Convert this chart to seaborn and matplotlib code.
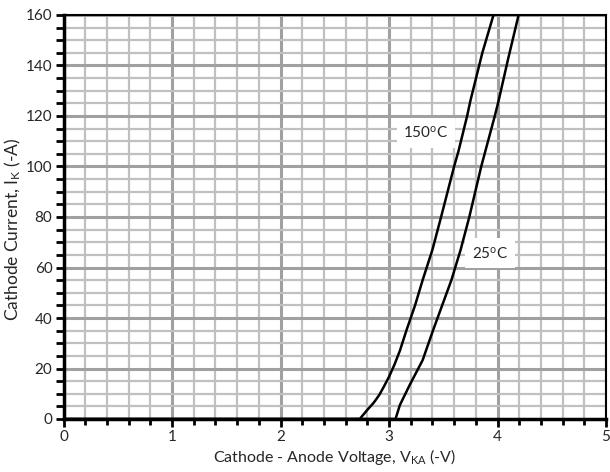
import numpy as np
import pandas as pd
import seaborn as sns
import matplotlib.pyplot as plt
from matplotlib.ticker import MultipleLocator

# curve data
v_150 = [0.0, 2.73, 2.80, 2.86, 2.91, 2.95, 3.00, 3.05, 3.10, 3.16, 3.24, 3.31, 3.40, 3.48, 3.60, 3.64, 3.72, 3.75, 3.86, 3.97]
i_150 = [0.0, 0.0, 3.6, 6.5, 9.5, 12.6, 16.7, 21.5, 27.0, 35.0, 45.0, 55.0, 67.0, 80.0, 100.0, 106.0, 120.0, 126.0, 145.0, 161.0]
v_25 = [0.0, 3.06, 3.10, 3.19, 3.31, 3.405, 3.49, 3.575, 3.66, 3.74, 3.85, 3.975, 4.01, 4.10, 4.20]
i_25 = [0.0, 0.0, 5.5, 13.4, 23.3, 35.0, 45.0, 55.0, 67.0, 80.0, 100.0, 120.0, 126.0, 143.0, 161.0]
temps = ['150$^{o}$C', '25$^{o}$C']
label_pos = [(3.34, 113.4), (3.93, 65.6)]

df = pd.concat([
    pd.DataFrame({'V': v_150, 'I': i_150, 'T': temps[0]}),
    pd.DataFrame({'V': v_25, 'I': i_25, 'T': temps[1]}),
], ignore_index=True)

sns.set_style('white')
plt.rcParams['font.family'] = ['Lato', 'DejaVu Sans']
plt.rcParams['mathtext.fontset'] = 'custom'
plt.rcParams['mathtext.rm'] = 'Lato'
plt.rcParams['mathtext.it'] = 'Lato'

fig, ax = plt.subplots(figsize=(6.1, 4.72), dpi=100)
fig.subplots_adjust(left=63.5/610, right=606/610, top=1-15/472, bottom=1-419/472)

sns.lineplot(data=df, x='V', y='I', hue='T', palette=['black', 'black'],
             sort=False, estimator=None, linewidth=1.8, legend=False, ax=ax, zorder=3)

ax.set_xlim(0, 5)
ax.set_ylim(0, 160)
ax.xaxis.set_major_locator(MultipleLocator(1))
ax.xaxis.set_minor_locator(MultipleLocator(0.2))
ax.yaxis.set_major_locator(MultipleLocator(20))
ax.yaxis.set_minor_locator(MultipleLocator(5))
ax.grid(which='minor', color='#c0c0c0', linewidth=1.6, zorder=0)
ax.grid(which='major', color='#a0a0a0', linewidth=2.2, zorder=1)
ax.set_axisbelow(True)

for s in ax.spines.values():
    s.set_color('black')
    s.set_linewidth(1.5)
ax.spines['left'].set_linewidth(2.5)
ax.spines['bottom'].set_linewidth(2.5)

ax.tick_params(which='major', direction='out', length=6, width=2, color='black',
               labelsize=11, bottom=True, left=True, pad=2)
ax.tick_params(which='minor', direction='out', length=4, width=2, color='black',
               bottom=True, left=True)
ax.tick_params(axis='y', which='minor', length=6)

ax.set_xlabel('Cathode - Anode Voltage, V$_{\\mathrm{KA}}$ (-V)', fontsize=11.5, labelpad=2)
ax.set_ylabel('Cathode Current, I$_{\\mathrm{K}}$ (-A)', fontsize=12.5)
ax.yaxis.set_label_coords(-0.075, 0.47)

for t, (x, y) in zip(temps, label_pos):
    ax.text(x, y, t, fontsize=11, ha='center', va='center', zorder=4,
            bbox=dict(facecolor='white', edgecolor='none', pad=5))

fig.savefig('out.png', dpi=100)
